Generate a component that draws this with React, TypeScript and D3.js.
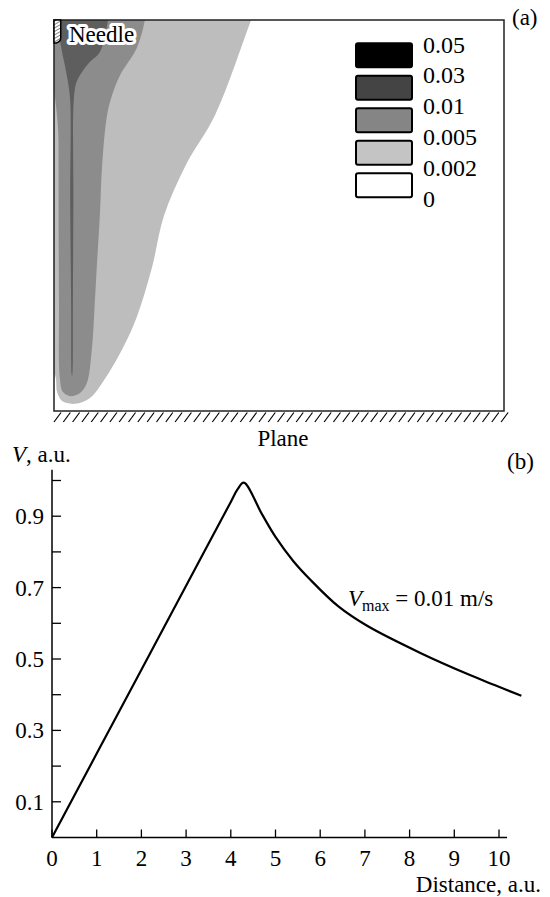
import React from "react";
import * as d3 from "d3";

// ---- panel (b): velocity profile ----
const distance = [0, 1, 2, 3, 4, 4.15, 4.29, 4.7, 5.0, 5.4, 5.78, 6.4, 7.05, 8.24, 9.35, 9.9, 10.5];
const velocity = [0, 0.235, 0.47, 0.705, 0.94, 0.975, 0.994, 0.905, 0.842, 0.774, 0.722, 0.648, 0.593, 0.517, 0.455, 0.427, 0.397];
const xTicks = [0, 1, 2, 3, 4, 5, 6, 7, 8, 9, 10];
const yMajor = [0.1, 0.3, 0.5, 0.7, 0.9];
const yMinor = [0.2, 0.4, 0.6, 0.8, 1.0];

// ---- panel (a): contour map, [r, z] boundary points ----
const lightRegion = [
  [-0.3, 9.3], [4.61, 9.3], [4.38, 8.69], [3.58, 6.58], [2.93, 5.47], [2.44, 4.33],
  [2.18, 3.2], [1.84, 2.09], [1.51, 1.36], [1.07, 0.62], [0.8, 0.29], [0.47, 0.16],
  [0.18, 0.22], [0.07, 0.42], [0.02, 0.8], [-0.3, 1.2],
];
const mediumRegion = [
  [0.09, 9.3], [2.1, 9.3], [2.02, 8.69], [1.84, 8.07], [1.47, 7.47], [1.29, 7.02],
  [1.18, 6.58], [1.07, 5.47], [1.02, 4.36], [0.96, 3.36], [0.91, 2.47], [0.84, 1.36],
  [0.73, 0.62], [0.58, 0.4], [0.36, 0.33], [0.2, 0.42], [0.13, 0.73], [0.11, 2.47], [0.1, 6],
];
const darkRegion = [
  [0.05, 9.3], [1.25, 9.3], [1.2, 8.69], [1.02, 7.98], [0.8, 7.76], [0.62, 7.53],
  [0.5, 7.31], [0.44, 6.91], [0.43, 4.69], [0.42, 2.47], [0.41, 0.84], [0.4, 0.78],
  [0.39, 0.84], [0.38, 2.47], [0.36, 4.69], [0.36, 6.91], [0.31, 7.31], [0.24, 7.69],
  [0.18, 7.98], [0.07, 8.69],
];
const legendLabels = ["0.05", "0.03", "0.01", "0.005", "0.002", "0"];
const legendColors = ["#000000", "#444444", "#858585", "#c4c4c4", "#ffffff"];

const FONT = '"Liberation Serif", "Times New Roman", Tinos, "DejaVu Serif", serif';

export default function App() {
  // top panel scales
  const rScale = d3.scaleLinear().domain([0, 10]).range([54, 504]);
  const zScale = d3.scaleLinear().domain([0, 8.69]).range([411, 20]);
  const region = d3.line<number[]>()
    .x(d => rScale(d[0]))
    .y(d => zScale(d[1]))
    .curve(d3.curveCatmullRomClosed.alpha(0.5));
  const hatchR = d3.range(0, 10, 0.207);

  // legend positions
  const boxY = d3.scaleLinear().domain([0, 1]).range([43.3, 75.8]);
  const labY = d3.scaleLinear().domain([0, 1]).range([52.5, 83.4]);

  // bottom panel scales
  const x = d3.scaleLinear().domain([0, 10]).range([52, 499]);
  const y = d3.scaleLinear().domain([0, 1]).range([837.5, 480.5]);
  const line = d3.line<number>()
    .x((_, i) => x(distance[i]))
    .y(d => y(d))
    .curve(d3.curveCatmullRom.alpha(0.5));

  return (
    <svg width={550} height={897} style={{ position: "absolute", left: 0, top: 0, background: "#fff", fontFamily: FONT }}>
      <defs>
        <clipPath id="frame">
          <rect x={rScale(0)} y={zScale(8.69)} width={rScale(10) - rScale(0)} height={zScale(0) - zScale(8.69)} />
        </clipPath>
        <pattern id="needleHatch" width={3} height={3} patternUnits="userSpaceOnUse" patternTransform="rotate(60)">
          <rect width={3} height={3} fill="#fff" />
          <line x1={0} y1={0} x2={0} y2={3} stroke="#333" strokeWidth={1.2} />
        </pattern>
      </defs>

      {/* panel (a) */}
      <g clipPath="url(#frame)">
        <path d={region(lightRegion) || ""} fill="#bdbdbd" />
        <path d={region(mediumRegion) || ""} fill="#8c8c8c" />
        <path d={region(darkRegion) || ""} fill="#5e5e5e" />
      </g>
      <rect x={rScale(0)} y={zScale(8.69)} width={rScale(10) - rScale(0)} height={zScale(0) - zScale(8.69)}
        fill="none" stroke="#222" strokeWidth={1.5} />
      <path
        d={`M${rScale(0)},${zScale(8.69)} H${rScale(0.15)} V${zScale(8.3)} Q${rScale(0.15)},${zScale(8.2)} ${rScale(0.05)},${zScale(8.18)} H${rScale(0)} Z`}
        fill="url(#needleHatch)" stroke="#000" strokeWidth={1.5} />
      <text x={69} y={42} fontSize={23} fill="#000" stroke="#fff" strokeWidth={6} strokeLinejoin="round"
        style={{ paintOrder: "stroke" }}>Needle</text>

      {hatchR.map((r, i) => (
        <line key={i} x1={rScale(r)} y1={zScale(0) + 11} x2={rScale(r) + 7} y2={zScale(0) + 1.5}
          stroke="#000" strokeWidth={1.2} />
      ))}
      <text x={283} y={446} fontSize={23} textAnchor="middle">Plane</text>
      <text x={512} y={25} fontSize={23}>(a)</text>

      {legendColors.map((c, i) => (
        <rect key={i} x={356} y={boxY(i)} width={56} height={24} rx={2} fill={c} stroke="#000" strokeWidth={2} />
      ))}
      {legendLabels.map((t, i) => (
        <text key={t} x={423} y={labY(i)} fontSize={24}>{t}</text>
      ))}

      {/* panel (b) */}
      <line x1={x(0)} y1={y(0)} x2={x(0)} y2={y(1.03)} stroke="#000" strokeWidth={1.5} />
      <line x1={x(0)} y1={y(0)} x2={x(10.18)} y2={y(0)} stroke="#000" strokeWidth={1.5} />
      {xTicks.map(t => (
        <g key={t}>
          <line x1={x(t)} x2={x(t)} y1={y(0)} y2={y(0) - 8} stroke="#000" strokeWidth={1.3} />
          <text x={x(t)} y={866} fontSize={23} textAnchor="middle">{t}</text>
        </g>
      ))}
      {yMajor.concat(yMinor).map(t => (
        <line key={t} x1={x(0)} x2={x(0) + 9} y1={y(t)} y2={y(t)} stroke="#000" strokeWidth={1.3} />
      ))}
      {yMajor.map(t => (
        <text key={t} x={44} y={y(t)} dy="0.35em" fontSize={23} textAnchor="end">{t}</text>
      ))}
      <path d={line(velocity) || ""} fill="none" stroke="#000" strokeWidth={2.2} />

      <text x={12} y={462} fontSize={23}><tspan fontStyle="italic">V</tspan>, a.u.</text>
      <text x={507} y={469} fontSize={23}>(b)</text>
      <text x={541} y={892} fontSize={23} textAnchor="end">Distance, a.u.</text>
      <text x={348} y={606} fontSize={23}>
        <tspan fontStyle="italic">V</tspan>
        <tspan fontSize={16} dy={5}>max</tspan>
        <tspan dy={-5}> = 0.01 m/s</tspan>
      </text>
    </svg>
  );
}
